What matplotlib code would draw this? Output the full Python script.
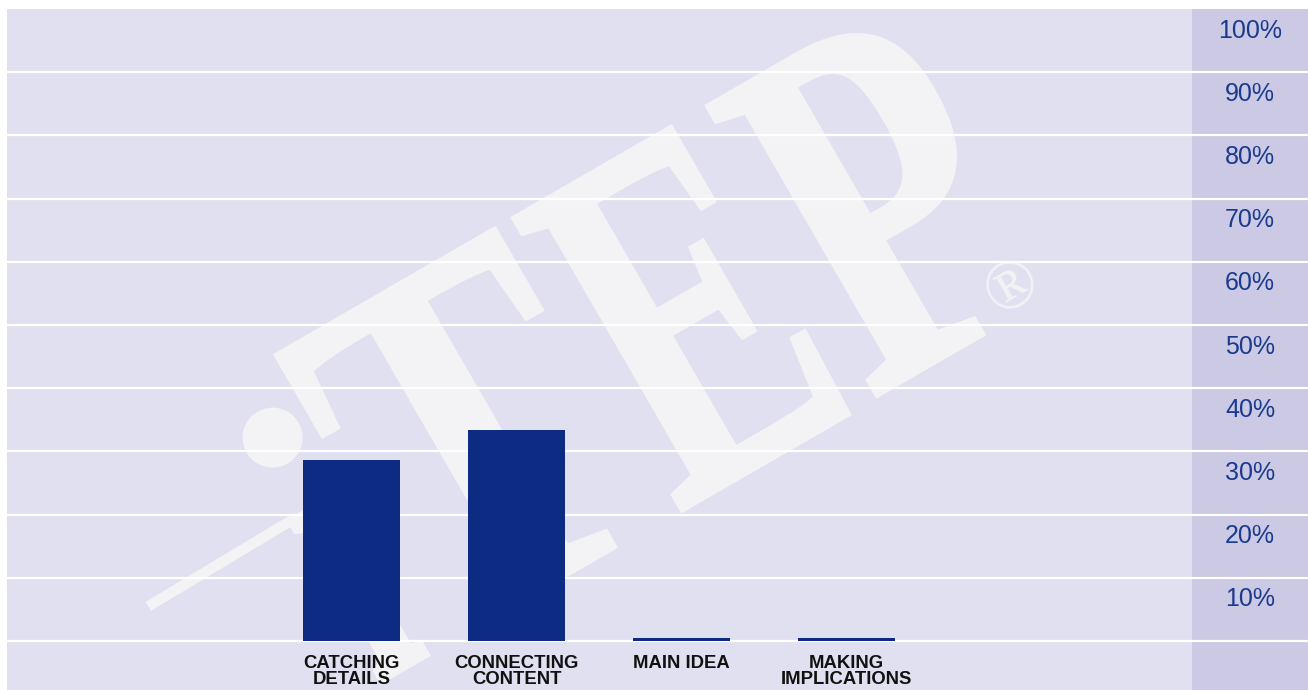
import numpy as np
import matplotlib
matplotlib.use("Agg")
import matplotlib.pyplot as plt
from matplotlib.transforms import offset_copy, blended_transform_factory, IdentityTransform
from matplotlib.textpath import TextPath
from matplotlib.patches import PathPatch, Circle
from matplotlib.path import Path
from matplotlib.font_manager import FontProperties
from matplotlib.lines import Line2D

categories = ["CATCHING\nDETAILS", "CONNECTING\nCONTENT", "MAIN IDEA", "MAKING\nIMPLICATIONS"]
values = [28.6, 33.4, 0.45, 0.45]
tick_values = [10, 20, 30, 40, 50, 60, 70, 80, 90, 100]
tick_labels = ["10%", "20%", "30%", "40%", "50%", "60%", "70%", "80%", "90%", "100%"]

BG = "#e1e0f0"
STRIP = "#cbc9e4"
BAR = "#0e2b84"
LABEL = "#1a3a8e"
WM = "#f3f3f5"

W, H = 1308, 690
fig = plt.figure(figsize=(W / 100, H / 100), dpi=100)
fig.patch.set_facecolor("white")
ax = fig.add_axes([7 / W, 0, (W - 7) / W, (H - 9) / H])
ax.set_facecolor(BG)
for s in ax.spines.values():
    s.set_visible(False)

x = list(range(len(categories)))
ax.set_xlim(-2.088, 5.797)
ax.set_ylim(-7.75, 100)

# right strip
ax.axvspan(5.094, 5.797, color=STRIP, zorder=0.5, lw=0)

# ---- watermark logo (decorative, in pixel space) ----
fp = FontProperties(family="Liberation Serif", weight="bold")
ANG = np.radians(30)
C, S = np.cos(ANG), np.sin(ANG)
ORIG = (513, 218)  # image px, top-left of the logo's cap line


def to_display(u, v):
    xi = ORIG[0] + u * C + v * S
    yi = ORIG[1] - u * S + v * C
    return xi, H - yi


def glyph(ch, u0, u1, v0, v1):
    p = TextPath((0, 0), ch, size=100, prop=fp)
    ext = p.get_extents()
    verts = p.vertices.copy()
    u = u0 + (verts[:, 0] - ext.x0) * (u1 - u0) / ext.width
    v = v0 + (ext.y1 - verts[:, 1]) * (v1 - v0) / ext.height
    xd, yd = to_display(u, v)
    newp = Path(np.column_stack([xd, yd]), p.codes)
    patch = PathPatch(newp, transform=IdentityTransform(), facecolor=WM,
                      edgecolor=WM, lw=3, zorder=0.6)
    ax.add_patch(patch)


glyph("\u0131", -346, -292, 150, 336)   # i stem (dotless)
glyph("T", -274, -21, 0, 336)
glyph("E", 0, 196, 0, 338)
glyph("P", 224, 428, 0, 336)
dx, dy = to_display(-318, 70)
ax.add_patch(Circle((dx, dy), 30, transform=IdentityTransform(),
                    facecolor=WM, edgecolor="none", zorder=0.6))
lx0, ly0 = to_display(-510, 154)
lx1, ly1 = to_display(-337, 151)
ax.add_line(Line2D([lx0, lx1], [ly0, ly1], transform=IdentityTransform(),
                   color=WM, lw=7.5, solid_capstyle="butt", zorder=0.6))
ax.text(1013, H - 288, "\u00ae", transform=IdentityTransform(), rotation=30,
        rotation_mode="anchor", ha="center", va="center",
        fontsize=50, family="Liberation Serif", color=WM, zorder=0.6)

# gridlines
for v in [0] + tick_values[:-1]:
    ax.axhline(v, color="white", lw=1.6, zorder=1)

ax.bar(x, values, width=0.59, color=BAR, zorder=2)

ax.set_xticks([])
ax.set_yticks([])

# y labels in strip, offset below their gridline
trans = blended_transform_factory(ax.transAxes, ax.transData)
trans_off = offset_copy(trans, fig=fig, x=0, y=-21.5, units="dots")
xlab = (1250 - 7) / (W - 7)
for v, t in zip(tick_values, tick_labels):
    ax.text(xlab, v, t, transform=trans_off, ha="center", va="center",
            fontsize=18, color=LABEL, family="Liberation Sans")

# category labels
trans_x = offset_copy(ax.transData, fig=fig, x=0, y=-13.5, units="dots")
for xi, c in zip(x, categories):
    ax.text(xi, 0, c, transform=trans_x, ha="center", va="top",
            multialignment="center", fontsize=13.3, fontweight="bold",
            color="#111111", family="Liberation Sans", linespacing=0.95)

fig.savefig("out.png", dpi=100, facecolor="white")
